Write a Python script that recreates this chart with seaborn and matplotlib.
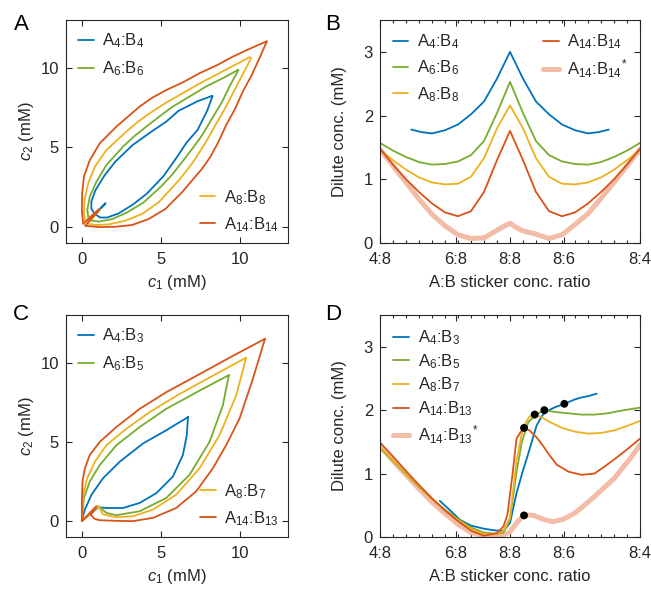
import numpy as np
import pandas as pd
import matplotlib
matplotlib.use("Agg")
import matplotlib.pyplot as plt
import seaborn as sns

sns.set_style("ticks")
plt.rcParams["font.family"] = ["Liberation Sans", "DejaVu Sans"]
plt.rcParams["mathtext.fontset"] = "custom"
plt.rcParams["mathtext.rm"] = "Liberation Sans"
plt.rcParams["mathtext.it"] = "Liberation Sans:italic"
plt.rcParams["mathtext.bf"] = "Liberation Sans:bold"

BLUE, GREEN, YELLOW, RED, PALE = "#0072BD", "#77AC30", "#EDB120", "#D95319", "#F2BCA7"
DARK = "#262626"

# ---------------- Panel A: symmetric binodals (upper branch, tip -> cusp) -------------
a4b4_c1 = [8.22, 7.3, 6.1, 5.3, 4.4, 3.2, 2.1, 1.4, 0.85, 0.6, 0.6, 0.8, 1.5]
a4b4_c2 = [8.24, 7.9, 7.3, 6.6, 6.0, 5.15, 4.1, 3.2, 2.3, 1.6, 1.15, 0.85, 1.47]
a6b6_c1 = [9.85, 8.9, 7.84, 6.8, 5.74, 4.9, 4.07, 3.3, 2.6, 1.55, 0.92, 0.5, 0.34, 0.42, 1.1]
a6b6_c2 = [9.87, 9.35, 8.83, 8.2, 7.57, 6.95, 6.31, 5.7, 5.05, 3.9, 2.85, 1.91, 1.07, 0.55, 1.12]
a8b8_c1 = [10.6, 9.5, 8.47, 7.4, 6.37, 5.3, 4.28, 3.5, 2.81, 1.55, 0.82, 0.4, 0.17, 0.13, 0.22, 1.1]
a8b8_c2 = [10.67, 10.1, 9.56, 9.0, 8.41, 7.8, 7.15, 6.58, 6.0, 4.84, 3.79, 2.75, 1.7, 0.86, 0.35, 1.12]
a14b14_c1 = [11.65, 10.6, 9.52, 8.5, 7.42, 6.4, 5.32, 4.4, 3.65, 2.18, 1.13, 0.5, 0.13, 0.02, 0.0, 0.08, 1.1]
a14b14_c2 = [11.66, 11.2, 10.7, 10.15, 9.66, 9.1, 8.6, 8.1, 7.57, 6.31, 5.26, 4.2, 3.17, 2.12, 1.07, 0.2, 1.12]

# ---------------- Panel C: asymmetric binodals (full closed path) -------------
a4b3_c1 = [6.69, 5.32, 3.86, 2.39, 1.34, 0.61, 0.19, 0.04, 0.0, 1.04, 1.55, 2.6, 3.65, 4.7, 5.74, 6.37, 6.62, 6.69]
a4b3_c2 = [6.56, 5.73, 4.9, 3.75, 2.71, 1.67, 0.73, 0.2, 0.0, 0.875, 0.83, 0.83, 1.15, 1.77, 2.81, 4.17, 5.42, 6.56]
a6b5_c1 = [9.27, 7.42, 5.32, 3.65, 2.18, 1.13, 0.5, 0.13, 0.0, 1.05, 1.55, 2.18, 3.65, 5.32, 6.79, 8.05, 8.89, 9.27]
a6b5_c2 = [9.21, 8.23, 7.08, 5.94, 4.79, 3.54, 2.5, 1.46, 0.0, 0.94, 0.52, 0.375, 0.625, 1.46, 2.92, 5.0, 7.29, 9.21]
a8b7_c1 = [10.36, 8.26, 6.16, 4.28, 2.81, 1.55, 0.82, 0.34, 0.08, 0.0, 1.05, 1.34, 2.18, 3.23, 4.49, 5.95, 7.42, 8.68, 9.73, 10.36]
a8b7_c2 = [10.31, 9.17, 8.02, 6.88, 5.83, 4.79, 3.75, 2.71, 1.67, 0.0, 0.94, 0.42, 0.25, 0.31, 0.73, 1.67, 3.33, 5.42, 7.92, 10.31]
a14b13_c1 = [11.55, 9.52, 7.42, 5.32, 3.65, 2.18, 1.13, 0.5, 0.19, 0.04, 0.0, 0.0, 0.92, 0.56, 0.8, 1.1, 2.1, 3.23, 4.49, 5.95, 7.21, 8.26, 9.1, 9.94, 10.78, 11.55]
a14b13_c2 = [11.5, 10.42, 9.27, 8.13, 7.08, 5.94, 5.0, 4.17, 3.33, 2.5, 1.25, 0.0, 0.95, 0.4, 0.15, 0.06, 0.02, 0.0, 0.21, 0.83, 1.88, 3.33, 4.79, 6.46, 8.96, 11.5]

# ---------------- Panel B: dilute conc. vs log2(A:B) -------------
ratio_ticks = [-1.0, -0.415, 0.0, 0.415, 1.0]
ratio_labels = ["4:8", "6:8", "8:8", "8:6", "8:4"]

b_a4b4_x = [-0.76, -0.68, -0.6, -0.5, -0.4, -0.3, -0.2, -0.1, -0.05, 0.0, 0.05, 0.1, 0.2, 0.3, 0.4, 0.5, 0.6, 0.68, 0.76]
b_a4b4_y = [1.78, 1.74, 1.72, 1.77, 1.86, 2.02, 2.22, 2.58, 2.79, 3.0, 2.79, 2.58, 2.22, 2.02, 1.86, 1.77, 1.72, 1.74, 1.78]
grid_x = [-1.0, -0.9, -0.8, -0.7, -0.6, -0.5, -0.4, -0.3, -0.2, -0.1, 0.0, 0.1, 0.2, 0.3, 0.4, 0.5, 0.6, 0.7, 0.8, 0.9, 1.0]
b_a6b6_y = [1.57, 1.45, 1.35, 1.27, 1.23, 1.24, 1.28, 1.38, 1.6, 2.04, 2.53, 2.04, 1.6, 1.38, 1.28, 1.24, 1.23, 1.27, 1.35, 1.45, 1.57]
b_a8b8_y = [1.46, 1.3, 1.15, 1.03, 0.95, 0.92, 0.93, 1.04, 1.33, 1.8, 2.16, 1.8, 1.33, 1.04, 0.93, 0.92, 0.95, 1.03, 1.15, 1.3, 1.46]
b_a14b14_y = [1.48, 1.23, 1.0, 0.8, 0.62, 0.48, 0.42, 0.5, 0.8, 1.3, 1.76, 1.3, 0.8, 0.5, 0.42, 0.48, 0.62, 0.8, 1.0, 1.23, 1.48]
b_pale_x = [-1.0, -0.9, -0.8, -0.7, -0.6, -0.5, -0.4, -0.3, -0.2, -0.1, -0.05, 0.0, 0.05, 0.1, 0.2, 0.3, 0.4, 0.5, 0.6, 0.7, 0.8, 0.9, 1.0]
b_pale_y = [1.47, 1.21, 0.95, 0.69, 0.45, 0.27, 0.13, 0.07, 0.08, 0.2, 0.26, 0.31, 0.24, 0.19, 0.14, 0.07, 0.13, 0.29, 0.46, 0.7, 0.95, 1.21, 1.47]

# ---------------- Panel D -------------
d_a4b3_x = [-0.54, -0.45, -0.385, -0.3, -0.2, -0.1, -0.05, 0.0, 0.05, 0.1, 0.128, 0.205, 0.25, 0.3, 0.35, 0.418, 0.5, 0.55, 0.6, 0.667]
d_a4b3_y = [0.57, 0.4, 0.27, 0.18, 0.13, 0.1, 0.1, 0.22, 0.69, 1.05, 1.23, 1.76, 1.92, 2.0, 2.05, 2.1, 2.17, 2.2, 2.22, 2.26]
d_a6b5_x = [-1.0, -0.9, -0.8, -0.7, -0.6, -0.5, -0.4, -0.3, -0.2, -0.1, -0.05, 0.0, 0.05, 0.09, 0.14, 0.2, 0.264, 0.35, 0.45, 0.55, 0.65, 0.75, 0.85, 1.0]
d_a6b5_y = [1.40, 1.2, 0.99, 0.79, 0.6, 0.43, 0.28, 0.15, 0.07, 0.05, 0.07, 0.28, 1.02, 1.49, 1.81, 1.93, 2.0, 1.97, 1.95, 1.93, 1.93, 1.95, 1.99, 2.04]
d_a8b7_x = [-1.0, -0.9, -0.8, -0.7, -0.6, -0.5, -0.4, -0.3, -0.2, -0.1, -0.05, 0.0, 0.05, 0.1, 0.15, 0.19, 0.25, 0.3, 0.4, 0.5, 0.6, 0.7, 0.8, 0.9, 1.0]
d_a8b7_y = [1.42, 1.21, 1.0, 0.8, 0.6, 0.42, 0.27, 0.13, 0.05, 0.04, 0.1, 0.3, 1.2, 1.73, 1.9, 1.93, 1.88, 1.82, 1.72, 1.66, 1.63, 1.64, 1.68, 1.75, 1.83]
d_a14b13_x = [-1.0, -0.9, -0.8, -0.7, -0.6, -0.5, -0.4, -0.3, -0.2, -0.1, -0.05, -0.02, 0.02, 0.05, 0.08, 0.108, 0.15, 0.2, 0.25, 0.3, 0.36, 0.45, 0.55, 0.65, 0.72, 0.8, 0.9, 1.0]
d_a14b13_y = [1.49, 1.27, 1.04, 0.82, 0.61, 0.42, 0.25, 0.1, 0.02, 0.06, 0.17, 0.35, 1.0, 1.55, 1.65, 1.72, 1.68, 1.58, 1.45, 1.3, 1.14, 1.03, 0.98, 1.0, 1.1, 1.22, 1.38, 1.55]
d_pale_x = [-1.0, -0.9, -0.8, -0.7, -0.6, -0.5, -0.4, -0.3, -0.2, -0.1, -0.05, 0.0, 0.05, 0.108, 0.18, 0.256, 0.33, 0.41, 0.5, 0.56, 0.64, 0.72, 0.8, 0.87, 0.93, 1.0]
d_pale_y = [1.44, 1.2, 0.98, 0.76, 0.55, 0.37, 0.2, 0.07, 0.01, 0.01, 0.03, 0.08, 0.22, 0.35, 0.34, 0.28, 0.24, 0.28, 0.38, 0.48, 0.62, 0.77, 0.92, 1.1, 1.25, 1.45]
d_dots_x = [0.108, 0.19, 0.264, 0.418, 0.108]
d_dots_y = [1.72, 1.93, 2.0, 2.1, 0.34]

# ---------------- figure ----------------
fig = plt.figure(figsize=(6.51, 5.89), dpi=100)
W, H = 651, 589
def box(l, t, r, b):
    return [l / W, 1 - b / H, (r - l) / W, (b - t) / H]

axA = fig.add_axes(box(66, 20, 288, 243))
axB = fig.add_axes(box(380, 20, 640, 243))
axC = fig.add_axes(box(66, 315, 288, 537))
axD = fig.add_axes(box(380, 315, 640, 537))

FS = 12
LW = 1.3
LEGKW = dict(frameon=False, fontsize=FS, handlelength=0.95, handletextpad=0.5, borderpad=0.3)

def line(ax, x, y, color, lw=LW, z=2):
    df = pd.DataFrame({"x": x, "y": y})
    sns.lineplot(data=df, x="x", y="y", ax=ax, sort=False, estimator=None,
                 color=color, lw=lw, zorder=z, legend=False)

def sym_loop(c1, c2):
    # closed binodal: upper branch then its mirror image (c1<->c2) back to the tip
    return c1 + c2[::-1], c2 + c1[::-1]

def style(ax, ylabelpad, xlabelpad):
    for s in ax.spines.values():
        s.set_color(DARK)
        s.set_linewidth(0.8)
    ax.tick_params(which="both", direction="in", top=True, right=True, colors=DARK,
                   labelsize=FS, width=0.8)
    ax.tick_params(which="major", length=4)
    ax.tick_params(axis="x", which="major", pad=6.5)
    ax.tick_params(axis="y", which="major", pad=5)
    ax.tick_params(which="minor", length=2)
    ax.set_xlabel(ax.get_xlabel(), fontsize=FS, color=DARK, labelpad=xlabelpad)
    ax.set_ylabel(ax.get_ylabel(), fontsize=FS, color=DARK, labelpad=ylabelpad)

# Panel A
sA = [(a4b4_c1, a4b4_c2, BLUE, r"A$_4$:B$_4$"), (a6b6_c1, a6b6_c2, GREEN, r"A$_6$:B$_6$"),
      (a8b8_c1, a8b8_c2, YELLOW, r"A$_8$:B$_8$"), (a14b14_c1, a14b14_c2, RED, r"A$_{14}$:B$_{14}$")]
for c1, c2, col, lab in sA:
    x, y = sym_loop(c1, c2)
    line(axA, x, y, col)
# Panel C
sC = [(a4b3_c1, a4b3_c2, BLUE, r"A$_4$:B$_3$"), (a6b5_c1, a6b5_c2, GREEN, r"A$_6$:B$_5$"),
      (a8b7_c1, a8b7_c2, YELLOW, r"A$_8$:B$_7$"), (a14b13_c1, a14b13_c2, RED, r"A$_{14}$:B$_{13}$")]
for c1, c2, col, lab in sC:
    line(axC, c1, c2, col)

for ax, series in ((axA, sA), (axC, sC)):
    ax.set_xlim(-1, 13)
    ax.set_ylim(-1, 13)
    ax.set_xticks([0, 5, 10])
    ax.set_yticks([0, 5, 10])
    ax.set_xlabel(r"$c_1$ (mM)")
    ax.set_ylabel(r"$c_2$ (mM)")
    style(ax, 3, 4.5)
    h = [plt.Line2D([], [], color=s[2], lw=LW) for s in series]
    l = [s[3] for s in series]
    leg1 = ax.legend(h[:2], l[:2], loc="upper left", labelspacing=0.55, borderaxespad=0.4, **LEGKW)
    ax.add_artist(leg1)
    ax.legend(h[2:], l[2:], loc="lower right", labelspacing=0.5, borderaxespad=0.25, **LEGKW)

# Panel B
line(axB, b_pale_x, b_pale_y, PALE, lw=3.6, z=1)
line(axB, b_a4b4_x, b_a4b4_y, BLUE)
line(axB, grid_x, b_a6b6_y, GREEN)
line(axB, grid_x, b_a8b8_y, YELLOW)
line(axB, grid_x, b_a14b14_y, RED)
hB = [plt.Line2D([], [], color=c, lw=LW) for c in (BLUE, GREEN, YELLOW)]
lB = [r"A$_4$:B$_4$", r"A$_6$:B$_6$", r"A$_8$:B$_8$"]
legB = axB.legend(hB, lB, loc="upper left", labelspacing=0.45, borderaxespad=0.45, **LEGKW)
axB.add_artist(legB)
axB.legend([plt.Line2D([], [], color=RED, lw=LW), plt.Line2D([], [], color=PALE, lw=3.6)],
           [r"A$_{14}$:B$_{14}$", r"A$_{14}$:B$_{14}$$^{*}$"], loc="upper right",
           labelspacing=0.35, borderaxespad=0.45, **LEGKW)

# Panel D
line(axD, d_pale_x, d_pale_y, PALE, lw=3.6, z=1)
line(axD, d_a4b3_x, d_a4b3_y, BLUE)
line(axD, d_a6b5_x, d_a6b5_y, GREEN)
line(axD, d_a8b7_x, d_a8b7_y, YELLOW)
line(axD, d_a14b13_x, d_a14b13_y, RED)
sns.scatterplot(x=d_dots_x, y=d_dots_y, ax=axD, color="black", s=32, zorder=5,
                edgecolor="none", legend=False)
hD = [plt.Line2D([], [], color=c, lw=LW) for c in (BLUE, GREEN, YELLOW, RED)] + \
     [plt.Line2D([], [], color=PALE, lw=3.6)]
lD = [r"A$_4$:B$_3$", r"A$_6$:B$_5$", r"A$_8$:B$_7$", r"A$_{14}$:B$_{13}$", r"A$_{14}$:B$_{13}$$^{*}$"]
axD.legend(hD, lD, loc="upper left", labelspacing=0.3, borderaxespad=0.5, **LEGKW)

for ax in (axB, axD):
    ax.set_xlim(-1, 1)
    ax.set_ylim(0, 3.5)
    ax.set_xticks(ratio_ticks)
    ax.set_xticklabels(ratio_labels)
    ax.set_yticks([0, 1, 2, 3])
    ax.set_xticks(np.arange(-0.9, 0.95, 0.1).round(2), minor=True)
    ax.set_xlabel("A:B sticker conc. ratio")
    ax.set_ylabel("Dilute conc. (mM)")
    style(ax, 12, 5.5)

for lab, (px, py) in zip("ABCD", [(21, 25), (333, 25), (21, 314), (333, 314)]):
    fig.text(px / W, 1 - py / H, lab, fontsize=16, ha="center", va="center", color="black")

fig.savefig("out.png", dpi=100)
